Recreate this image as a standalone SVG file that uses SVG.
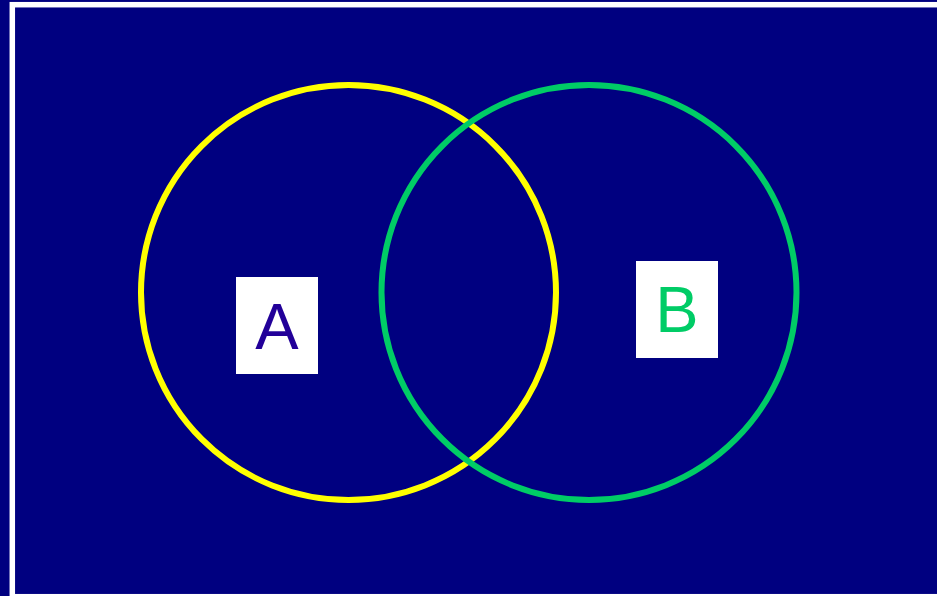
<svg xmlns="http://www.w3.org/2000/svg" width="937" height="596" viewBox="0 0 937 596">
<style>
.lbl{font-family:"Liberation Sans",Arial,sans-serif;font-size:65px;text-anchor:middle}
.box{fill:#ffffff}
</style>
<rect x="0" y="0" width="937" height="596" fill="#000080"/>
<rect x="12.3" y="4.7" width="940" height="592" fill="none" stroke="#ffffff" stroke-width="5.5"/>
<g id="circleA"><circle cx="348.5" cy="292.5" r="207.5" fill="none" stroke="#ffff00" stroke-width="6"/></g>
<g id="circleB"><circle cx="589" cy="292.5" r="207.5" fill="none" stroke="#00cc66" stroke-width="6"/></g>
<g id="connectors"></g>
<g id="labelA"><rect class="box" x="236" y="277" width="82" height="97"/><text class="lbl" x="277" y="349" fill="#220099">A</text></g>
<g id="labelB"><rect class="box" x="636" y="261" width="82" height="97"/><text class="lbl" x="677" y="332" fill="#00cc66">B</text></g>
</svg>
